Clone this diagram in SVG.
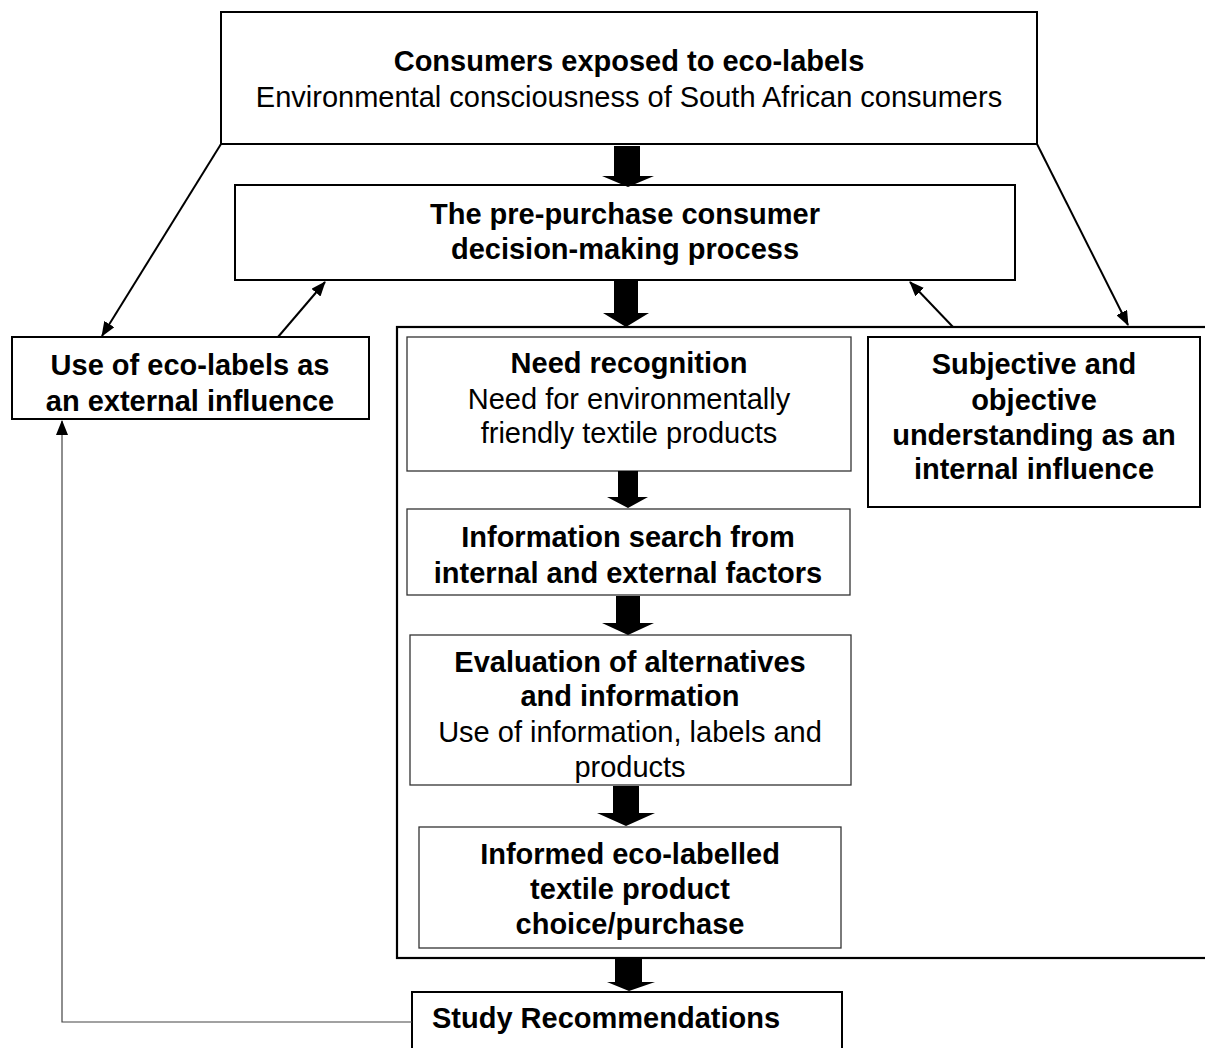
<svg xmlns="http://www.w3.org/2000/svg" width="1205" height="1048" viewBox="0 0 1205 1048">
  <style>
    .box { fill: #fff; stroke: #000; stroke-width: 2; }
    .thin { fill: #fff; stroke: #333; stroke-width: 1.3; }
    .cont { fill: none; stroke: #000; stroke-width: 2.2; }
    text { font-family: "Liberation Sans", Arial, sans-serif; font-size: 29px; fill: #000; text-anchor: middle; }
    .b { font-weight: bold; }
    .conn { fill: none; stroke: #000; stroke-width: 2; }
    .fb { fill: none; stroke: #444; stroke-width: 1.2; }
    .blk { fill: #000; }
  </style>
  <defs>
    <marker id="ah" markerWidth="15" markerHeight="12" refX="14" refY="6" orient="auto" markerUnits="userSpaceOnUse">
      <path d="M0,0 L15,6 L0,12 Z" fill="#000"/>
    </marker>
  </defs>
  <rect width="1205" height="1048" fill="#fff"/>

  <rect id="container" class="cont" x="397" y="327" width="820" height="631"/>

  <g id="top">
    <rect class="box" x="221" y="12" width="816" height="132"/>
    <text class="b" x="629" y="71">Consumers exposed to eco-labels</text>
    <text x="629" y="107">Environmental consciousness of South African consumers</text>
  </g>
  <g id="prepurchase">
    <rect class="box" x="235" y="185" width="780" height="95"/>
    <text class="b" x="625" y="224">The pre-purchase consumer</text>
    <text class="b" x="625" y="259">decision-making process</text>
  </g>
  <g id="external">
    <rect class="box" x="12" y="337" width="357" height="82"/>
    <text class="b" x="190" y="375">Use of eco-labels as</text>
    <text class="b" x="190" y="411">an external influence</text>
  </g>
  <g id="internal">
    <rect class="box" x="868" y="337" width="332" height="170"/>
    <text class="b" x="1034" y="374">Subjective and</text>
    <text class="b" x="1034" y="410">objective</text>
    <text class="b" x="1034" y="445">understanding as an</text>
    <text class="b" x="1034" y="479">internal influence</text>
  </g>
  <g id="need">
    <rect class="thin" x="407" y="337" width="444" height="134"/>
    <text class="b" x="629" y="373">Need recognition</text>
    <text x="629" y="409">Need for environmentally</text>
    <text x="629" y="443">friendly textile products</text>
  </g>
  <g id="search">
    <rect class="thin" x="407" y="509" width="443" height="86"/>
    <text class="b" x="628" y="547">Information search from</text>
    <text class="b" x="628" y="583">internal and external factors</text>
  </g>
  <g id="evaluation">
    <rect class="thin" x="410" y="635" width="441" height="150"/>
    <text class="b" x="630" y="672">Evaluation of alternatives</text>
    <text class="b" x="630" y="706">and information</text>
    <text x="630" y="742">Use of information, labels and</text>
    <text x="630" y="777">products</text>
  </g>
  <g id="purchase">
    <rect class="thin" x="419" y="827" width="422" height="121"/>
    <text class="b" x="630" y="864">Informed eco-labelled</text>
    <text class="b" x="630" y="899">textile product</text>
    <text class="b" x="630" y="934">choice/purchase</text>
  </g>
  <g id="study">
    <rect class="box" x="412" y="992" width="430" height="70"/>
    <text class="b" x="432" y="1028" style="text-anchor:start">Study Recommendations</text>
  </g>

  <g id="connectors">
    <polygon class="blk" points="614,146 640,146 640,176 654,176 628,187 602,176 614,176"/>
    <polygon class="blk" points="614,281 638,281 638,313 649,313 626,327 603,313 614,313"/>
    <polygon class="blk" points="618,471 638,471 638,497 648,497 628,508 607,497 618,497"/>
    <polygon class="blk" points="616,596 640,596 640,623 654,623 628,635 602,623 616,623"/>
    <polygon class="blk" points="613,786 639,786 639,813 655,813 626,826 597,813 613,813"/>
    <polygon class="blk" points="615,959 642,959 642,982 655,982 629,991 607,982 615,982"/>
    <line class="conn" x1="221" y1="144" x2="102" y2="336" marker-end="url(#ah)"/>
    <line class="conn" x1="278" y1="337" x2="325" y2="282" marker-end="url(#ah)"/>
    <line class="conn" x1="1037" y1="144" x2="1128" y2="325" marker-end="url(#ah)"/>
    <line class="conn" x1="953" y1="327" x2="910" y2="282" marker-end="url(#ah)"/>
    <path class="fb" d="M412,1022 H62 V421" marker-end="url(#ah)"/>
  </g>
</svg>
